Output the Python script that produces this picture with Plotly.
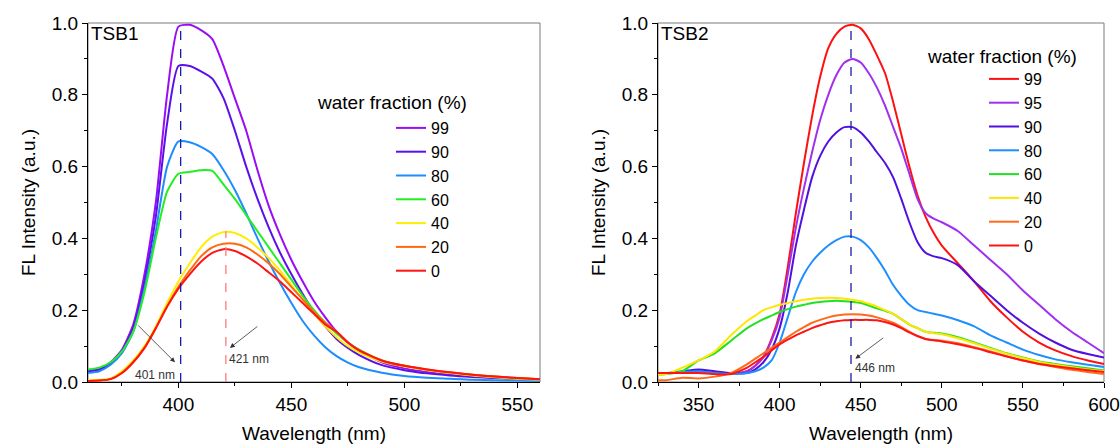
import plotly.graph_objects as go

# ---- data: TSB1 (left panel) ----
wl1 = [360, 365, 370, 375, 380, 385, 390, 395, 400, 405, 410, 415, 420, 425, 430, 435,
       440, 445, 450, 455, 460, 465, 470, 475, 480, 490, 500, 510, 520, 530, 540, 550, 560]
tsb1_series = ["99", "90", "80", "60", "40", "20", "0"]
tsb1_99 = [0.03, 0.035, 0.055, 0.09, 0.16, 0.30, 0.50, 0.80, 0.99, 0.995, 0.98, 0.955, 0.88,
           0.79, 0.70, 0.59, 0.49, 0.41, 0.34, 0.28, 0.225, 0.18, 0.14, 0.11, 0.088, 0.055,
           0.038, 0.028, 0.021, 0.016, 0.012, 0.009, 0.007]
tsb1_90 = [0.03, 0.035, 0.052, 0.085, 0.15, 0.28, 0.46, 0.72, 0.88, 0.88, 0.865, 0.845, 0.79,
           0.70, 0.60, 0.51, 0.43, 0.36, 0.30, 0.245, 0.195, 0.155, 0.12, 0.095, 0.075, 0.047,
           0.033, 0.024, 0.018, 0.014, 0.011, 0.008, 0.006]
tsb1_80 = [0.025, 0.03, 0.048, 0.08, 0.14, 0.26, 0.42, 0.60, 0.67, 0.668, 0.655, 0.635, 0.59,
           0.535, 0.47, 0.40, 0.335, 0.275, 0.22, 0.17, 0.13, 0.097, 0.072, 0.054, 0.041, 0.026,
           0.017, 0.012, 0.009, 0.006, 0.005, 0.004, 0.003]
tsb1_60 = [0.035, 0.04, 0.055, 0.085, 0.14, 0.25, 0.40, 0.53, 0.58, 0.585, 0.59, 0.588, 0.55,
           0.51, 0.465, 0.42, 0.375, 0.33, 0.285, 0.24, 0.20, 0.165, 0.135, 0.11, 0.09, 0.06,
           0.045, 0.034, 0.026, 0.02, 0.015, 0.011, 0.008]
tsb1_40 = [0.005, 0.006, 0.01, 0.03, 0.06, 0.10, 0.155, 0.22, 0.28, 0.33, 0.375, 0.405, 0.418,
           0.415, 0.40, 0.375, 0.345, 0.31, 0.27, 0.23, 0.19, 0.155, 0.125, 0.10, 0.082, 0.057,
           0.043, 0.033, 0.025, 0.018, 0.013, 0.009, 0.006]
tsb1_20 = [0.003, 0.004, 0.008, 0.025, 0.055, 0.095, 0.15, 0.21, 0.265, 0.31, 0.35, 0.375, 0.385,
           0.385, 0.375, 0.355, 0.33, 0.30, 0.265, 0.23, 0.195, 0.165, 0.14, 0.11, 0.088, 0.06,
           0.045, 0.035, 0.027, 0.02, 0.015, 0.011, 0.008]
tsb1_0 = [0.003, 0.004, 0.008, 0.025, 0.055, 0.095, 0.15, 0.21, 0.26, 0.30, 0.335, 0.36, 0.37,
          0.365, 0.35, 0.33, 0.305, 0.28, 0.25, 0.22, 0.19, 0.16, 0.14, 0.11, 0.088, 0.06,
          0.045, 0.035, 0.027, 0.02, 0.015, 0.011, 0.008]
tsb1_values = [tsb1_99, tsb1_90, tsb1_80, tsb1_60, tsb1_40, tsb1_20, tsb1_0]
tsb1_colors = ["#9a0cf5", "#5a10ee", "#1e8cff", "#22ee22", "#ffee00", "#ff6a10", "#ff1414"]

# ---- data: TSB2 (right panel) ----
wl2 = [325, 330, 340, 350, 360, 370, 380, 385, 390, 395, 400, 405, 410, 415, 420, 425, 430, 435,
       440, 445, 450, 455, 460, 465, 470, 475, 480, 485, 490, 495, 500, 510, 520, 530, 540, 550,
       560, 570, 580, 590, 600]
tsb2_series = ["99", "95", "90", "80", "60", "40", "20", "0"]
tsb2_99 = [0.025, 0.025, 0.028, 0.03, 0.025, 0.022, 0.03, 0.045, 0.07, 0.12, 0.19, 0.32, 0.47,
           0.61, 0.74, 0.85, 0.93, 0.97, 0.99, 0.995, 0.985, 0.955, 0.91, 0.86, 0.78, 0.69, 0.60,
           0.52, 0.46, 0.415, 0.38, 0.33, 0.28, 0.225, 0.18, 0.14, 0.11, 0.088, 0.072, 0.06, 0.05]
tsb2_95 = [0.025, 0.025, 0.028, 0.03, 0.025, 0.022, 0.03, 0.045, 0.07, 0.115, 0.18, 0.30, 0.43,
           0.54, 0.64, 0.73, 0.80, 0.855, 0.89, 0.90, 0.89, 0.86, 0.82, 0.77, 0.71, 0.65, 0.58,
           0.51, 0.47, 0.455, 0.445, 0.42, 0.38, 0.34, 0.30, 0.255, 0.215, 0.175, 0.14, 0.11, 0.08]
tsb2_90 = [0.025, 0.025, 0.03, 0.035, 0.03, 0.025, 0.025, 0.035, 0.055, 0.09, 0.15, 0.25, 0.38,
           0.48, 0.57, 0.63, 0.67, 0.695, 0.71, 0.71, 0.695, 0.67, 0.64, 0.61, 0.57, 0.51, 0.445,
           0.39, 0.36, 0.35, 0.345, 0.325, 0.28, 0.24, 0.20, 0.165, 0.135, 0.11, 0.09, 0.078, 0.068]
tsb2_80 = [0.025, 0.025, 0.028, 0.03, 0.025, 0.022, 0.025, 0.03, 0.04, 0.06, 0.11, 0.18, 0.25,
           0.30, 0.335, 0.36, 0.38, 0.395, 0.405, 0.405, 0.395, 0.375, 0.345, 0.31, 0.27, 0.24,
           0.215, 0.20, 0.195, 0.19, 0.185, 0.172, 0.155, 0.13, 0.11, 0.09, 0.075, 0.063, 0.055,
           0.048, 0.042]
tsb2_60 = [0.02, 0.022, 0.03, 0.06, 0.08, 0.115, 0.15, 0.163, 0.175, 0.185, 0.195, 0.203, 0.21,
           0.215, 0.22, 0.223, 0.225, 0.226, 0.225, 0.223, 0.22, 0.213, 0.205, 0.198, 0.19, 0.175,
           0.16, 0.15, 0.14, 0.137, 0.135, 0.125, 0.11, 0.095, 0.08, 0.068, 0.057, 0.05, 0.044,
           0.038, 0.032]
tsb2_40 = [0.02, 0.022, 0.04, 0.06, 0.085, 0.13, 0.17, 0.185, 0.2, 0.208, 0.215, 0.22, 0.225,
           0.229, 0.232, 0.234, 0.235, 0.234, 0.232, 0.229, 0.225, 0.218, 0.21, 0.2, 0.19, 0.175,
           0.16, 0.15, 0.14, 0.136, 0.133, 0.122, 0.108, 0.093, 0.079, 0.067, 0.056, 0.048, 0.041,
           0.035, 0.03]
tsb2_20 = [0.005, 0.005, 0.012, 0.01, 0.015, 0.025, 0.05, 0.065, 0.08, 0.095, 0.11, 0.125, 0.14,
           0.153, 0.165, 0.173, 0.18, 0.185, 0.188, 0.189, 0.188, 0.185, 0.18, 0.173, 0.165, 0.153,
           0.14, 0.128, 0.12, 0.117, 0.115, 0.108, 0.097, 0.085, 0.072, 0.06, 0.05, 0.042, 0.034,
           0.028, 0.022]
tsb2_0 = [0.025, 0.025, 0.025, 0.025, 0.022, 0.022, 0.04, 0.055, 0.07, 0.088, 0.105, 0.118, 0.13,
          0.14, 0.15, 0.158, 0.165, 0.169, 0.172, 0.173, 0.173, 0.173, 0.172, 0.167, 0.16, 0.15,
          0.138, 0.128, 0.12, 0.116, 0.113, 0.105, 0.095, 0.083, 0.071, 0.06, 0.05, 0.044, 0.038,
          0.033, 0.028]
tsb2_values = [tsb2_99, tsb2_95, tsb2_90, tsb2_80, tsb2_60, tsb2_40, tsb2_20, tsb2_0]
tsb2_colors = ["#ff1010", "#a030f0", "#5010e0", "#1e8fff", "#22e022", "#ffe600", "#ff6a1a", "#ff1414"]

# peak markers (nm)
peak_tsb1_agg = 401
peak_tsb1_sol = 421
peak_tsb2 = 444

FONT = "Liberation Sans, Arial, sans-serif"
W, H = 1120, 445
ML, MR, MT, MB = 88, 16, 23, 63
PW, PH = W - ML - MR, H - MT - MB


def px_x(p):
    return (p - ML) / PW


def px_y(p):
    return (H - MB - p) / PH


fig = go.Figure()
for name, vals, col in zip(tsb1_series, tsb1_values, tsb1_colors):
    fig.add_trace(go.Scatter(x=wl1, y=vals, name=name, mode="lines",
                             line=dict(color=col, width=2, shape="spline", smoothing=0.6),
                             xaxis="x", yaxis="y", legend="legend"))
for name, vals, col in zip(tsb2_series, tsb2_values, tsb2_colors):
    fig.add_trace(go.Scatter(x=wl2, y=vals, name=name, mode="lines",
                             line=dict(color=col, width=2, shape="spline", smoothing=0.6),
                             xaxis="x2", yaxis="y2", legend="legend2"))

axis_common = dict(
    showline=True, linecolor="black", linewidth=1.3, ticks="outside", ticklen=5,
    tickwidth=1, tickcolor="black", showgrid=False, zeroline=False, automargin=False,
    ticklabeloverflow="allow",
    tickfont=dict(family=FONT, size=19, color="black"),
    minor=dict(ticks="outside", ticklen=3, tickcolor="black", showgrid=False),
)
xtitle = dict(text="Wavelength (nm)", font=dict(size=19), standoff=12)
ytitle = dict(text="FL Intensity (a.u.)", font=dict(size=19), standoff=10)

fig.update_layout(
    width=W, height=H,
    margin=dict(l=ML, r=MR, t=MT, b=MB),
    paper_bgcolor="white", plot_bgcolor="white",
    font=dict(family=FONT, size=19, color="black"),
    xaxis=dict(domain=[0, px_x(540)], range=[360, 560], dtick=50, tick0=400,
               minor_dtick=25, anchor="y", title=xtitle, **axis_common),
    yaxis=dict(domain=[0, 1], range=[0, 1.0], dtick=0.2, tickformat=".1f",
               minor_dtick=0.1, anchor="x", title=ytitle, **axis_common),
    xaxis2=dict(domain=[px_x(658), 1], range=[325, 600], dtick=50, tick0=350,
                minor_dtick=25, anchor="y2", title=xtitle, **axis_common),
    yaxis2=dict(domain=[0, 1], range=[0, 1.0], dtick=0.2, tickformat=".1f",
                minor_dtick=0.1, anchor="x2", title=ytitle, **axis_common),
    legend=dict(x=px_x(391), y=px_y(111), xanchor="left", yanchor="top",
                xref="paper", yref="paper", bgcolor="rgba(0,0,0,0)",
                font=dict(size=16), tracegroupgap=0, itemclick=False),
    legend2=dict(x=px_x(984), y=px_y(62), xanchor="left", yanchor="top",
                 xref="paper", yref="paper", bgcolor="rgba(0,0,0,0)",
                 font=dict(size=16), tracegroupgap=0, itemclick=False),
    showlegend=True,
)

# grey frame on the top/right sides
for xr, yr in (("x domain", "y domain"), ("x2 domain", "y2 domain")):
    fig.add_shape(type="rect", xref=xr, yref=yr, x0=0, x1=1, y0=0, y1=1,
                  line=dict(color="#7a7a7a", width=1), layer="below")

# dashed peak lines
fig.add_shape(type="line", xref="x", yref="y", x0=peak_tsb1_agg, x1=peak_tsb1_agg, y0=0, y1=1.0,
              line=dict(color="#1c1ca8", width=1.3, dash="dash"))
fig.add_shape(type="line", xref="x", yref="y", x0=peak_tsb1_sol, x1=peak_tsb1_sol, y0=0, y1=0.42,
              line=dict(color="#ff7a7a", width=1.3, dash="dash"))
fig.add_shape(type="line", xref="x2", yref="y2", x0=peak_tsb2, x1=peak_tsb2, y0=0, y1=1.0,
              line=dict(color="#1c1ca8", width=1.3, dash="dash"))

arrow = dict(showarrow=True, arrowhead=2, arrowsize=1.2, arrowwidth=0.8, arrowcolor="#333333",
             text="")
fig.add_annotation(x=398.5, y=0.055, ax=381.5, ay=0.162, xref="x", yref="y",
                   axref="x", ayref="y", **arrow)
fig.add_annotation(x=422.8, y=0.095, ax=435.6, ay=0.158, xref="x", yref="y",
                   axref="x", ayref="y", **arrow)
fig.add_annotation(x=446.7, y=0.065, ax=464.8, ay=0.126, xref="x2", yref="y2",
                   axref="x2", ayref="y2", **arrow)

small = dict(size=12, color="#333333", family=FONT)
fig.add_annotation(x=389.7, y=0.019, xref="x", yref="y", text="401 nm", showarrow=False, font=small)
fig.add_annotation(x=431.3, y=0.065, xref="x", yref="y", text="421 nm", showarrow=False, font=small)
fig.add_annotation(x=458.8, y=0.038, xref="x2", yref="y2", text="446 nm", showarrow=False, font=small)

# panel labels and legend titles
fig.add_annotation(x=0.003, y=1.0, xref="x domain", yref="y domain", text="TSB1", showarrow=False,
                   xanchor="left", yanchor="top", yshift=2, font=dict(size=19))
fig.add_annotation(x=0.003, y=1.0, xref="x2 domain", yref="y2 domain", text="TSB2", showarrow=False,
                   xanchor="left", yanchor="top", yshift=2, font=dict(size=19))
fig.add_annotation(x=px_x(315), y=px_y(102), xref="paper", yref="paper",
                   text="water fraction (%)", showarrow=False, xanchor="left", yanchor="middle",
                   font=dict(size=19))
fig.add_annotation(x=px_x(925), y=px_y(56), xref="paper", yref="paper",
                   text="water fraction (%)", showarrow=False, xanchor="left", yanchor="middle",
                   font=dict(size=19))

# the page's default body margin would shift the whole figure by 8px
fig.write_html("out.html", config={"displayModeBar": False},
               post_script="document.body.style.margin='0';")
